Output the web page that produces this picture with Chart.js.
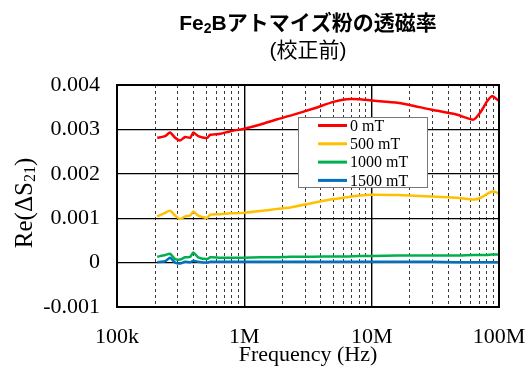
<!DOCTYPE html>
<html>
<head>
<meta charset="utf-8">
<script src="https://cdn.jsdelivr.net/npm/chart.js@4/dist/chart.umd.min.js"></script>
<style>
  html, body { margin: 0; padding: 0; background: #fff; }
  #wrap { width: 527px; height: 371px; }
</style>
</head>
<body>
<div id="wrap"><canvas id="chart" width="527" height="371"></canvas></div>
<script>
// frequency points (Hz), shared by all four traces
const freqHz = [
  2.07e5, 2.39e5, 2.61e5, 2.86e5, 3.13e5, 3.43e5, 3.76e5, 3.97e5, 4.34e5, 5.11e5,
  5.4e5, 6.47e5, 7.76e5, 9.8e5, 1.34e6, 1.82e6, 2.3e6, 3.5e6, 5e6, 6.3e6,
  8e6, 1e7, 1.6e7, 2.9e7, 4.7e7, 6.3e7, 7.2e7, 8e7, 8.8e7, 9.4e7, 1e8
];

const seriesNames = ['0 mT', '500 mT', '1000 mT', '1500 mT'];

const re0mT = [
  0.00281, 0.00285, 0.00293, 0.00281, 0.00275, 0.00283, 0.00281, 0.00293, 0.00285, 0.00281,
  0.00288, 0.00290, 0.00296, 0.00301, 0.00311, 0.00323, 0.00331, 0.00347, 0.00362, 0.00368,
  0.00368, 0.00365, 0.00360, 0.00345, 0.00333, 0.00322, 0.00340, 0.00362, 0.00375, 0.00370, 0.00364
];
const re500mT = [
  0.00104, 0.00112, 0.00117, 0.00106, 0.00098, 0.00104, 0.00106, 0.00115, 0.00106, 0.00101,
  0.00108, 0.00109, 0.00111, 0.00112, 0.00116, 0.00121, 0.00124, 0.00135, 0.00143, 0.00147,
  0.00151, 0.00153, 0.00152, 0.00149, 0.00146, 0.00142, 0.00146, 0.00154, 0.00160, 0.00159, 0.00155
];
const re1000mT = [
  0.00013, 0.00017, 0.00020, 0.00008, 0.00007, 0.00012, 0.00013, 0.00023, 0.00012, 0.00008,
  0.00012, 0.00011, 0.00011, 0.00011, 0.00012, 0.00012, 0.00013, 0.00013, 0.00014, 0.00014,
  0.00015, 0.00015, 0.00016, 0.00016, 0.00016, 0.00017, 0.00017, 0.00017, 0.00018, 0.00018, 0.00018
];
const re1500mT = [
  0.00001, 0.00003, 0.00011, 0.00000, -0.00002, 0.00002, 0.00001, 0.00004, 0.00002, 0.00000,
  0.00002, 0.00002, 0.00002, 0.00002, 0.00002, 0.00002, 0.00002, 0.00002, 0.00002, 0.00002,
  0.00002, 0.00002, 0.00002, 0.00002, 0.00001, 0.00001, 0.00001, 0.00001, 0.00001, 0.00001, 0.00001
];

const xMajorTicks = [1e5, 1e6, 1e7, 1e8];
const xTickLabels = ['100k', '1M', '10M', '100M'];
const yTicks = [-0.001, 0, 0.001, 0.002, 0.003, 0.004];
const yTickLabels = ['-0.001', '0', '0.001', '0.002', '0.003', '0.004'];

const colors = ['#ff0000', '#ffc000', '#00b050', '#0070c0'];

const serif = '"Liberation Serif", "Times New Roman", serif';
const titleFont = '"Liberation Sans", Arial, "Noto Sans CJK JP", sans-serif';

function allLogTicks(){
  // 1..9 x 10^n between the end decades, for the log grid
  const ticks = [];
  for (let d = 0; d < xMajorTicks.length; d++){
    const base = xMajorTicks[d];
    if (d === xMajorTicks.length - 1){
      ticks.push({value: base, major: true});
      break;
    }
    for (let m = 1; m <= 9; m++){
      ticks.push({value: base * m, major: m === 1});
    }
  }
  return ticks;
}

function drawParts(ctx, parts, cx, cy){
  // draws a row of text pieces centred on cx, with per-piece baseline shift
  let total = 0;
  parts.forEach(p => { ctx.font = p.font; p.w = ctx.measureText(p.text).width; total += p.w; });
  let x = cx - total / 2;
  ctx.textAlign = 'left';
  ctx.textBaseline = 'middle';
  parts.forEach(p => {
    ctx.font = p.font;
    ctx.fillText(p.text, x, cy + (p.dy || 0));
    x += p.w;
  });
}

const decorations = {
  id: 'decorations',
  afterDatasetsDraw(chart){
    const ctx = chart.ctx;
    const ca = chart.chartArea;
    ctx.save();

    // plot frame
    ctx.strokeStyle = '#000';
    ctx.lineWidth = 2;
    ctx.strokeRect(ca.left, ca.top, ca.right - ca.left, ca.bottom - ca.top);

    // legend box inside the plot
    const lx = ca.left + 181, ly = ca.top + 32, lw = 129, lh = 70;
    ctx.fillStyle = '#fff';
    ctx.fillRect(lx, ly, lw, lh);
    ctx.strokeStyle = '#777';
    ctx.lineWidth = 1;
    ctx.strokeRect(lx + 0.5, ly + 0.5, lw, lh);
    ctx.font = '16px ' + serif;
    ctx.textAlign = 'left';
    ctx.textBaseline = 'middle';
    chart.data.datasets.forEach((ds, i) => {
      const ry = ly + 8.5 + i * 18.3;
      ctx.strokeStyle = ds.borderColor;
      ctx.lineWidth = 3;
      ctx.beginPath();
      ctx.moveTo(lx + 20, ry);
      ctx.lineTo(lx + 49, ry);
      ctx.stroke();
      ctx.fillStyle = '#000';
      ctx.fillText(ds.label, lx + 52, ry + 1);
    });
    ctx.restore();
  },
  afterDraw(chart){
    const ctx = chart.ctx;
    const ca = chart.chartArea;
    const cx = (ca.left + ca.right) / 2;
    ctx.save();
    ctx.fillStyle = '#000';

    // chart title, two lines
    drawParts(ctx, [
      {text: 'Fe', font: 'bold 21px ' + titleFont},
      {text: '2', font: 'bold 14px ' + titleFont, dy: 5},
      {text: 'Bアトマイズ粉の透磁率', font: 'bold 21px ' + titleFont}
    ], cx, 24);
    drawParts(ctx, [
      {text: '(校正前)', font: '21px ' + titleFont}
    ], cx, 51);

    // y axis title with subscript
    ctx.translate(25, 203);
    ctx.rotate(-Math.PI / 2);
    drawParts(ctx, [
      {text: 'Re(ΔS', font: '25px ' + serif},
      {text: '21', font: '16px ' + serif, dy: 6},
      {text: ')', font: '25px ' + serif}
    ], 0, 0);
    ctx.restore();
  }
};

function isMajorTick(v){
  const l = Math.log10(v);
  return Math.abs(l - Math.round(l)) < 1e-6;
}

function makeDatasets(){
  const all = [re0mT, re500mT, re1000mT, re1500mT];
  return all.map((vals, i) => ({
    label: seriesNames[i],
    data: freqHz.map((f, k) => ({x: f, y: vals[k]})),
    borderColor: colors[i],
    backgroundColor: colors[i],
    borderWidth: 2.5,
    pointRadius: 0,
    fill: false,
    tension: 0.2
  }));
}

Chart.defaults.color = '#000';

new Chart(document.getElementById('chart'), {
  type: 'line',
  data: { datasets: makeDatasets() },
  options: {
    responsive: false,
    animation: false,
    layout: { padding: { top: 85, right: 28, left: 0, bottom: 0 } },
    plugins: {
      legend: { display: false },
      title: { display: false },
      tooltip: { enabled: false }
    },
    scales: {
      x: {
        type: 'logarithmic',
        min: 1e5,
        max: 1e8,
        afterBuildTicks: (scale) => { scale.ticks = allLogTicks(); },
        afterFit: (scale) => {
          scale.height = 64;
          scale.paddingLeft = 0;
          scale.paddingRight = 0;
        },
        ticks: {
          autoSkip: false,
          maxRotation: 0,
          padding: 17,
          font: { family: serif, size: 22 },
          callback: (v) => {
            const idx = xMajorTicks.findIndex(t => Math.abs(t - v) / t < 1e-6);
            return idx >= 0 ? xTickLabels[idx] : '';
          }
        },
        grid: {
          drawTicks: false,
          color: (c) => c.tick && isMajorTick(c.tick.value) ? '#000' : '#3a3a3a',
          lineWidth: (c) => c.tick && isMajorTick(c.tick.value) ? 1.4 : 1
        },
        border: {
          display: false,
          dash: (c) => c.tick && !isMajorTick(c.tick.value) ? [3, 3] : []
        },
        title: {
          display: true,
          text: 'Frequency (Hz)',
          font: { family: serif, size: 22 },
          padding: { top: 0, bottom: 3 }
        }
      },
      y: {
        min: -0.001,
        max: 0.004,
        afterBuildTicks: (scale) => { scale.ticks = yTicks.map(v => ({value: v})); },
        afterFit: (scale) => { scale.width = 117; },
        ticks: {
          padding: 17,
          font: { family: serif, size: 22 },
          callback: (v) => {
            const idx = yTicks.findIndex(t => Math.abs(t - v) < 1e-9);
            return idx >= 0 ? yTickLabels[idx] : '';
          }
        },
        grid: {
          drawTicks: false,
          color: '#000',
          lineWidth: 1.3
        },
        border: { display: false }
      }
    }
  },
  plugins: [decorations]
});
</script>
</body>
</html>
